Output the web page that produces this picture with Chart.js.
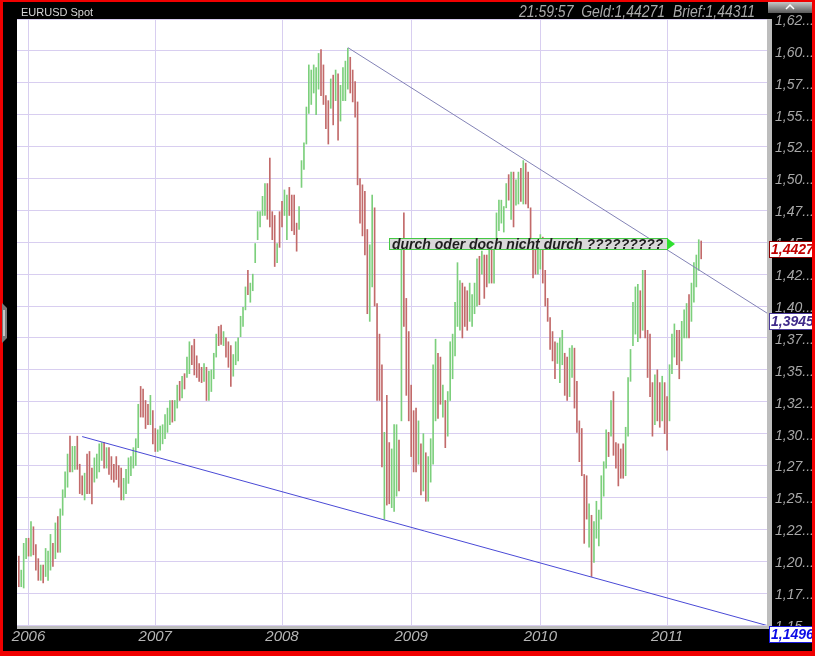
<!DOCTYPE html>
<html>
<head>
<meta charset="utf-8">
<script src="https://cdn.jsdelivr.net/npm/chart.js@4.4.0/dist/chart.umd.min.js"></script>
<style>
  html, body { margin: 0; padding: 0; background: #000; }
  canvas { display: block; }
</style>
</head>
<body>
<canvas id="myChart" width="815" height="656"></canvas>
<script>
// EURUSD weekly range bars, first bar = early December 2005
const lows = [
  1.180,1.180,1.179,1.202,1.204,1.204,1.205,1.193,1.185,1.185,
  1.183,1.188,1.185,1.193,1.196,1.202,1.207,1.207,1.236,1.250,
  1.258,1.270,1.270,1.272,1.272,1.253,1.252,1.248,1.253,1.253,
  1.245,1.262,1.265,1.270,1.279,1.273,1.273,1.268,1.264,1.262,
  1.264,1.258,1.248,1.248,1.253,1.261,1.267,1.273,1.275,1.289,
  1.313,1.313,1.304,1.307,1.307,1.292,1.286,1.286,1.287,1.292,
  1.296,1.301,1.307,1.309,1.310,1.320,1.326,1.328,1.335,1.344,
  1.347,1.354,1.346,1.344,1.341,1.340,1.341,1.326,1.326,1.333,
  1.343,1.360,1.369,1.370,1.369,1.360,1.352,1.337,1.345,1.354,
  1.357,1.376,1.384,1.397,1.409,1.403,1.412,1.434,1.452,1.462,
  1.471,1.471,1.468,1.462,1.452,1.431,1.434,1.446,1.462,1.471,
  1.452,1.471,1.459,1.456,1.443,1.460,1.493,1.507,1.527,1.551,
  1.558,1.567,1.550,1.570,1.565,1.558,1.539,1.527,1.555,1.542,
  1.561,1.530,1.545,1.561,1.561,1.570,1.567,1.560,1.548,1.495,
  1.465,1.455,1.440,1.394,1.388,1.415,1.400,1.326,1.326,1.274,
  1.233,1.244,1.245,1.242,1.239,1.251,1.255,1.310,1.384,1.330,
  1.310,1.282,1.270,1.270,1.276,1.252,1.255,1.247,1.247,1.262,
  1.276,1.310,1.312,1.323,1.313,1.289,1.298,1.326,1.343,1.361,
  1.384,1.381,1.375,1.384,1.381,1.388,1.384,1.394,1.400,1.401,
  1.425,1.406,1.415,1.418,1.418,1.418,1.446,1.459,1.465,1.458,
  1.477,1.483,1.468,1.462,1.479,1.480,1.482,1.480,1.480,1.477,
  1.449,1.422,1.425,1.425,1.429,1.418,1.400,1.388,1.366,1.357,
  1.343,1.355,1.340,1.354,1.330,1.326,1.329,1.344,1.320,1.301,
  1.278,1.267,1.214,1.233,1.211,1.188,1.199,1.218,1.212,1.233,
  1.251,1.273,1.282,1.298,1.283,1.273,1.259,1.265,1.265,1.267,
  1.298,1.341,1.369,1.378,1.372,1.375,1.381,1.375,1.344,1.329,
  1.298,1.307,1.310,1.305,1.310,1.300,1.287,1.310,1.347,1.360,
  1.354,1.343,1.357,1.375,1.375,1.375,1.388,1.403,1.415,1.428,1.437
];
const highs = [
  1.204,1.193,1.214,1.218,1.218,1.231,1.227,1.213,1.202,1.197,
  1.197,1.210,1.208,1.221,1.214,1.230,1.235,1.241,1.256,1.270,
  1.284,1.298,1.290,1.290,1.298,1.276,1.267,1.269,1.284,1.286,
  1.273,1.281,1.284,1.292,1.293,1.293,1.289,1.289,1.282,1.276,
  1.282,1.275,1.273,1.265,1.272,1.281,1.282,1.289,1.296,1.323,
  1.337,1.335,1.326,1.323,1.330,1.318,1.304,1.303,1.306,1.307,
  1.315,1.320,1.326,1.326,1.326,1.338,1.341,1.345,1.347,1.360,
  1.372,1.369,1.374,1.361,1.355,1.352,1.355,1.352,1.349,1.350,
  1.363,1.378,1.384,1.385,1.380,1.375,1.372,1.369,1.362,1.372,
  1.375,1.392,1.399,1.415,1.428,1.418,1.425,1.449,1.474,1.474,
  1.486,1.496,1.496,1.516,1.474,1.471,1.449,1.474,1.482,1.491,
  1.487,1.493,1.487,1.487,1.465,1.478,1.514,1.528,1.556,1.589,
  1.585,1.589,1.587,1.598,1.601,1.589,1.565,1.561,1.578,1.581,
  1.585,1.582,1.573,1.587,1.592,1.602,1.595,1.585,1.576,1.560,
  1.500,1.495,1.490,1.460,1.448,1.487,1.477,1.402,1.378,1.354,
  1.301,1.330,1.293,1.288,1.307,1.307,1.295,1.445,1.473,1.406,
  1.380,1.338,1.318,1.320,1.310,1.292,1.300,1.285,1.282,1.296,
  1.354,1.374,1.363,1.360,1.338,1.326,1.333,1.372,1.378,1.403,
  1.434,1.420,1.418,1.415,1.412,1.418,1.409,1.418,1.437,1.439,
  1.443,1.440,1.440,1.452,1.446,1.449,1.473,1.483,1.483,1.478,
  1.496,1.503,1.505,1.505,1.499,1.505,1.508,1.514,1.512,1.505,
  1.477,1.446,1.448,1.452,1.456,1.454,1.428,1.406,1.391,1.380,
  1.372,1.371,1.375,1.381,1.363,1.360,1.367,1.369,1.367,1.341,
  1.310,1.304,1.268,1.267,1.245,1.236,1.231,1.247,1.240,1.267,
  1.278,1.303,1.301,1.326,1.333,1.293,1.292,1.288,1.292,1.305,
  1.344,1.366,1.403,1.415,1.417,1.412,1.428,1.428,1.381,1.378,
  1.340,1.346,1.350,1.340,1.345,1.340,1.329,1.354,1.378,1.386,
  1.381,1.381,1.388,1.397,1.402,1.409,1.418,1.434,1.440,1.452,1.451
];
// u = up week (green), d = down week (red)
const dirs = (
  "duuududddu" + "duuududuuu" + "uduudddudd" + "duuuududdd" + "ddduuuuuuu" +
  "ddddudduuu" + "uuuduududu" + "uddddduduu" + "uudduddduu" + "uuuuduuuuu" +
  "uudddduddu" + "udddduuuuu" + "uuuuddddud" + "uduuuudddd" + "dddduudddd" +
  "udduuududd" + "ddddududuu" + "uudduduuuu" + "uuddduuuud" + "udduduuuuu" +
  "ududuududd" + "ddduuddddd" + "duuudduudd" + "dddduduuuu" + "uududddddu" +
  "uuuuududdd" + "duddudduuu" + "dduuuduuuud"
).split("");

// x axis: bar index of the first week of each year
const yearStart = [4, 56, 108, 161, 214, 266];
const yearLabels = ["2006", "2007", "2008", "2009", "2010", "2011"];

// y axis ticks
const yTicks = [1.15, 1.175, 1.2, 1.225, 1.25, 1.275, 1.3, 1.325, 1.35, 1.375,
                1.4, 1.425, 1.45, 1.475, 1.5, 1.525, 1.55, 1.575, 1.6, 1.625];

// trend lines [bar index, price]
const upperLine = [[135, 1.6026], [307, 1.3945]];
const lowerLine = [[26, 1.2977], [307, 1.1496]];

// price boxes on the right axis
const priceBoxes = [
  { value: 1.4427, text: "1,4427", color: "#c00000", border: "#8a0000", anchor: "center" },
  { value: 1.3945, text: "1,3945", color: "#3f2a8a", border: "#4a3a9a", anchor: "top" },
  { value: 1.1496, text: "1,1496", color: "#0a0ae6", border: "#1a1ae0", anchor: "top" }
];

const note = { text: "durch oder doch nicht durch ?????????", from: 152, to: 266, value: 1.449 };

const headerLeft = "EURUSD Spot";
const headerRight = "21:59:57  Geld:1,44271  Brief:1,44311";

const GREEN = "#7ccf7c";
const RED = "#c26a6a";
const GRID = "#d8cef0";

const bars = lows.map((lo, i) => ({ x: i, y: [lo, highs[i]] }));
const barColors = dirs.map((d) => (d === "u" ? GREEN : RED));

const truncLabel = (v) => (Math.floor(v * 100 + 1e-6) / 100).toFixed(2).replace(".", ",") + "...";

const chartDecor = {
  id: "chartDecor",
  beforeDraw(chart) {
    const { ctx, chartArea: a, width, height } = chart;
    ctx.save();
    ctx.fillStyle = "#000";
    ctx.fillRect(0, 0, width, height);
    // 3d edge of the plot
    ctx.fillStyle = "#bdbdbd";
    ctx.fillRect(a.right, a.top, 5, a.bottom - a.top + 4);
    ctx.fillRect(a.left, a.bottom, a.right - a.left + 5, 4);
    ctx.fillStyle = "#fff";
    ctx.fillRect(a.left, a.top, a.right - a.left, a.bottom - a.top);
    ctx.restore();
  },
  afterDatasetsDraw(chart) {
    const { ctx } = chart;
    const xs = chart.scales.x, ys = chart.scales.y;
    const x1 = Math.round(xs.getPixelForValue(note.from));
    const x2 = Math.round(xs.getPixelForValue(note.to));
    const y = Math.round(ys.getPixelForValue(note.value));
    ctx.save();
    ctx.fillStyle = "#d9d9d9";
    ctx.fillRect(x1, y - 6, x2 - x1, 12);
    ctx.strokeStyle = "#44c844";
    ctx.lineWidth = 1;
    ctx.strokeRect(x1 + 0.5, y - 5.5, x2 - x1, 11);
    ctx.fillStyle = "#2fe02f";
    ctx.beginPath();
    ctx.moveTo(x2, y - 6);
    ctx.lineTo(x2 + 8, y);
    ctx.lineTo(x2, y + 6);
    ctx.closePath();
    ctx.fill();
    ctx.font = 'italic bold 14px "Liberation Sans", Arial, sans-serif';
    ctx.fillStyle = "#1e1e1e";
    ctx.textBaseline = "middle";
    ctx.fillText(note.text, x1 + 3, y + 1);
    ctx.restore();
  },
  afterDraw(chart) {
    const { ctx, width, height } = chart;
    const ys = chart.scales.y;
    ctx.save();
    // header
    ctx.textBaseline = "alphabetic";
    ctx.fillStyle = "#d6d6d6";
    ctx.font = '11px "Liberation Sans", Arial, sans-serif';
    ctx.fillText(headerLeft, 21, 16);
    ctx.font = 'italic 16px "Liberation Sans", Arial, sans-serif';
    ctx.fillStyle = "#a9a9a9";
    const w = ctx.measureText(headerRight).width;
    ctx.save();
    ctx.translate(519, 17);
    ctx.scale(236 / w, 1);
    ctx.fillText(headerRight, 0, 0);
    ctx.restore();
    // small scroll button top right
    const g = ctx.createLinearGradient(0, 1, 0, 13);
    g.addColorStop(0, "#d0d0d0");
    g.addColorStop(1, "#5a5a5a");
    ctx.fillStyle = g;
    ctx.fillRect(768, 1, 44, 12);
    ctx.strokeStyle = "#fff";
    ctx.lineWidth = 1.5;
    ctx.beginPath();
    ctx.moveTo(786, 9);
    ctx.lineTo(790, 5);
    ctx.lineTo(794, 9);
    ctx.stroke();
    // price boxes
    ctx.font = 'italic bold 14px "Liberation Sans", Arial, sans-serif';
    ctx.textBaseline = "middle";
    priceBoxes.forEach((b) => {
      const py = ys.getPixelForValue(b.value);
      const top = Math.round(b.anchor === "center" ? py - 11 : py);
      ctx.fillStyle = "#fff";
      ctx.fillRect(769, top, 46, 17);
      ctx.strokeStyle = b.border;
      ctx.lineWidth = 1;
      ctx.strokeRect(769.5, top + 0.5, 46, 16);
      ctx.fillStyle = b.color;
      ctx.fillText(b.text, 771, top + 9);
    });
    // red frame
    ctx.fillStyle = "#f00000";
    ctx.fillRect(0, 0, width, 2);
    ctx.fillRect(0, 0, 3, height);
    ctx.fillRect(width - 3, 0, 3, height);
    ctx.fillRect(0, height - 5, width, 5);
    // left handle
    ctx.fillStyle = "#7a7a7a";
    ctx.beginPath();
    ctx.moveTo(2, 303); ctx.lineTo(7, 308); ctx.lineTo(7, 338); ctx.lineTo(2, 343);
    ctx.closePath();
    ctx.fill();
    ctx.fillStyle = "#c8c8c8";
    ctx.fillRect(3, 310, 2, 26);
    ctx.restore();
  }
};

const lineDataset = (pts, color) => ({
  type: "line",
  data: pts.map((p) => ({ x: p[0], y: p[1] })),
  borderColor: color,
  borderWidth: 1,
  pointRadius: 0,
  tension: 0,
  fill: false,
  order: 0
});

new Chart(document.getElementById("myChart"), {
  type: "bar",
  data: {
    datasets: [
      {
        type: "bar",
        data: bars,
        backgroundColor: barColors,
        borderWidth: 0,
        barThickness: 1,
        order: 1
      },
      lineDataset(upperLine, "#8383b6"),
      lineDataset(lowerLine, "#4a4ad6")
    ]
  },
  options: {
    responsive: false,
    animation: false,
    events: [],
    layout: { padding: { left: 17, top: 19, right: 0, bottom: 0 } },
    plugins: { legend: { display: false }, tooltip: { enabled: false } },
    scales: {
      x: {
        type: "linear",
        min: -0.74,
        max: 307,
        offset: false,
        afterBuildTicks: (s) => { s.ticks = yearStart.map((v) => ({ value: v })); },
        afterFit: (s) => { s.height = 31; },
        grid: { color: GRID, drawTicks: false, offset: false },
        border: { display: false },
        ticks: {
          autoSkip: false,
          maxRotation: 0,
          padding: 3,
          color: "#b5b5b5",
          font: { family: '"Liberation Sans", Arial, sans-serif', size: 15, style: "italic" },
          callback: (v) => yearLabels[yearStart.indexOf(v)]
        }
      },
      y: {
        position: "right",
        min: 1.15,
        max: 1.625,
        afterBuildTicks: (s) => { s.ticks = yTicks.map((v) => ({ value: v })); },
        afterFit: (s) => { s.width = 48; },
        grid: { color: GRID, drawTicks: false },
        border: { display: false },
        ticks: {
          autoSkip: false,
          padding: 8,
          labelOffset: 2,
          color: "#a8a8a8",
          font: { family: '"Liberation Sans", Arial, sans-serif', size: 14, style: "italic" },
          callback: (v) => truncLabel(v)
        }
      }
    }
  },
  plugins: [chartDecor]
});
</script>
</body>
</html>
